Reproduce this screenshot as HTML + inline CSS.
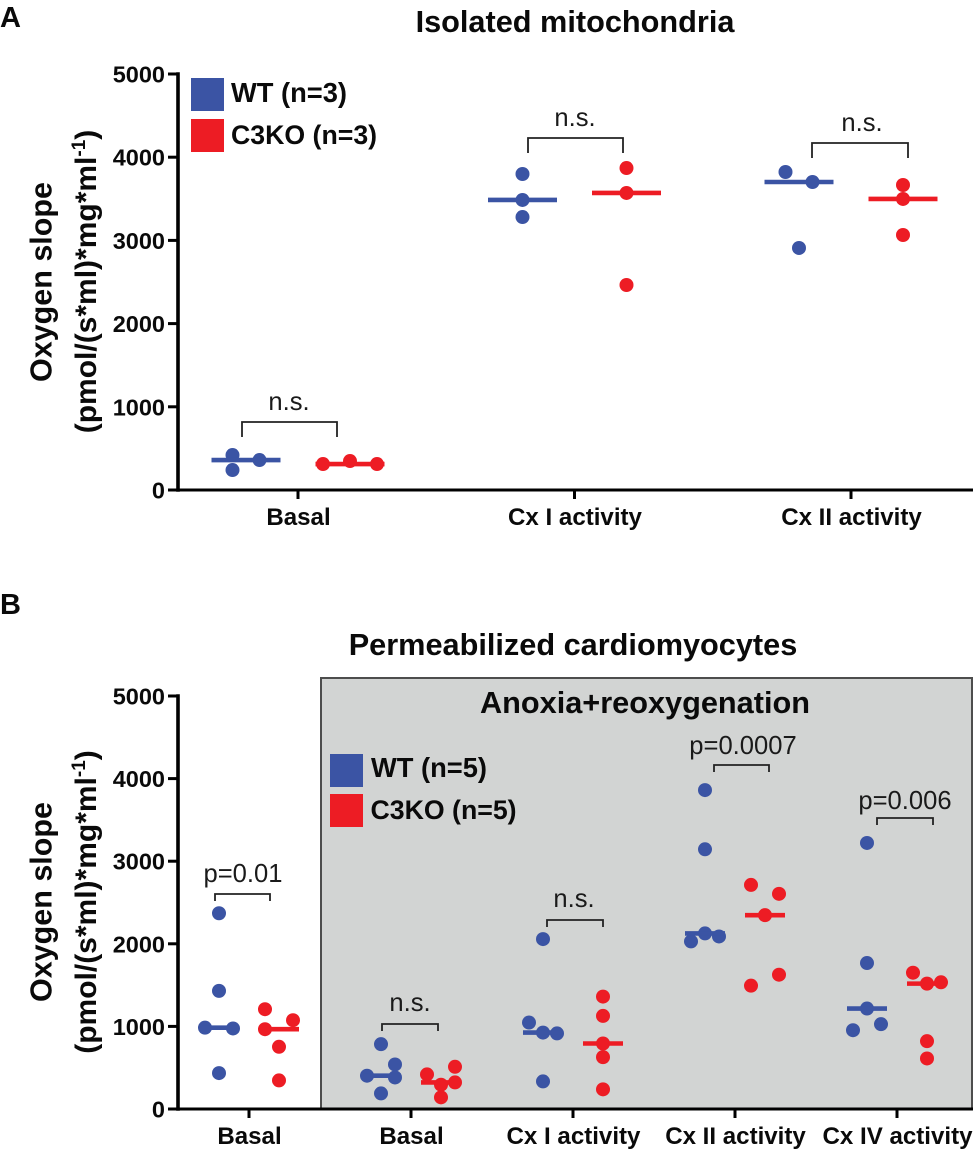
<!DOCTYPE html>
<html lang="en">
<head>
<meta charset="utf-8">
<title>Oxygen slope charts</title>
<style>
html,body{margin:0;padding:0;background:#fff;}
svg{display:block;font-family:"Liberation Sans",Arial,sans-serif;}
.b{font-weight:700;fill:#0a0a0a;}
.sig{font-size:25.6px;fill:#1a1a1a;text-anchor:middle;}
.br{fill:none;stroke:#222;stroke-width:1.8;}
.tick{font-size:23.5px;font-weight:700;fill:#0a0a0a;}
.cat{font-size:24.1px;font-weight:700;fill:#0a0a0a;}
.leg{font-size:26.7px;font-weight:700;fill:#0a0a0a;}
.legw{font-size:27.3px;font-weight:700;fill:#0a0a0a;}
.ttl{font-size:30.7px;font-weight:700;fill:#0a0a0a;text-anchor:middle;}
.ax1{font-size:30.5px;font-weight:700;fill:#0a0a0a;text-anchor:middle;}
.ax2{font-size:30px;font-weight:700;fill:#0a0a0a;text-anchor:middle;}
</style>
</head>
<body>
<svg id="chart" width="973" height="1149" viewBox="0 0 973 1149" xmlns="http://www.w3.org/2000/svg">
  <rect x="0" y="0" width="973" height="1149" fill="#fff"/>
  <rect x="321" y="678" width="651" height="431" fill="#d2d4d3" stroke="#4d4d4d" stroke-width="2"/>

  <text x="0" y="27" class="b" font-size="29">A</text>
  <text x="0" y="614" class="b" font-size="29">B</text>
  <text x="575" y="32" class="ttl">Isolated mitochondria</text>
  <text x="573" y="655" class="ttl">Permeabilized cardiomyocytes</text>
  <text x="645" y="713" class="ttl">Anoxia+reoxygenation</text>

  <text transform="translate(51.5 282) rotate(-90)" class="ax1">Oxygen slope</text>
  <text transform="translate(96 281.5) rotate(-90)" class="ax2">(pmol/(s*ml)*mg*ml<tspan font-size="19" dy="-11">-1</tspan><tspan dy="11">)</tspan></text>
  <text transform="translate(51.5 902) rotate(-90)" class="ax1">Oxygen slope</text>
  <text transform="translate(96 902) rotate(-90)" class="ax2">(pmol/(s*ml)*mg*ml<tspan font-size="19" dy="-11">-1</tspan><tspan dy="11">)</tspan></text>

  <g>
    <rect x="191" y="78" width="33" height="33" fill="#3b54a4"/>
    <text x="231" y="102" class="legw">WT (n=3)</text>
    <rect x="191" y="119" width="33" height="33" fill="#ed1c24"/>
    <text x="231" y="144" class="leg">C3KO (n=3)</text>
  </g>
  <g>
    <rect x="330" y="754" width="33" height="33" fill="#3b54a4"/>
    <text x="371" y="777" class="legw">WT (n=5)</text>
    <rect x="330" y="794" width="33" height="33" fill="#ed1c24"/>
    <text x="370.5" y="819" class="leg">C3KO (n=5)</text>
  </g>

  <g>
    <path class="br" d="M242 437V422H337V437"/>
    <text x="289" y="410" class="sig">n.s.</text>
    <path class="br" d="M528 153V138H623V153"/>
    <text x="575" y="126" class="sig">n.s.</text>
    <path class="br" d="M812 158V143H908V158"/>
    <text x="862" y="131" class="sig">n.s.</text>
  </g>
  <g>
    <path class="br" d="M215 901V894H270V901"/>
    <text x="243" y="882" class="sig">p=0.01</text>
    <path class="br" d="M382 1031V1024H438V1031"/>
    <text x="410" y="1011" class="sig">n.s.</text>
    <path class="br" d="M547 927V920H603V927"/>
    <text x="574" y="907" class="sig">n.s.</text>
    <path class="br" d="M714 772V765H769V772"/>
    <text x="743" y="754" class="sig">p=0.0007</text>
    <path class="br" d="M877 825V818H933V825"/>
    <text x="905" y="809" class="sig">p=0.006</text>
  </g>
  <g id="marks"></g>
</svg>
<script>
// Shared tick labels
const yTickValues = [0, 1000, 2000, 3000, 4000, 5000];

// Panel A: categories
const panelACategories = ['Basal', 'Cx I activity', 'Cx II activity'];
// Panel A: measured values per category
const panelAWT = [
  [420, 360, 240],
  [3798, 3486, 3281],
  [3822, 3702, 2909]
];
const panelAKO = [
  [312, 348, 312],
  [3870, 3570, 2464],
  [3666, 3498, 3065]
];
// Panel A: swarm column index of each point
const panelAWTColumns = [
  [-1, 1, -1],
  [0, 0, 0],
  [-1, 1, 0]
];
const panelAKOColumns = [
  [-2, 0, 2],
  [0, 0, 0],
  [0, 0, 0]
];

// Panel B: categories
const panelBCategories = ['Basal', 'Basal', 'Cx I activity', 'Cx II activity', 'Cx IV activity'];
// Panel B: measured values per category
const panelBWT = [
  [2370, 1430, 985, 975, 435],
  [785, 539, 403, 382, 189],
  [2057, 1047, 925, 915, 334],
  [3861, 3144, 2126, 2089, 2029],
  [3221, 1767, 1216, 1027, 954]
];
const panelBKO = [
  [1208, 1075, 966, 753, 346],
  [511, 419, 322, 294, 141],
  [1361, 1127, 793, 628, 238],
  [2713, 2605, 2347, 1626, 1493],
  [1650, 1534, 1518, 821, 612]
];
// Panel B: swarm column index of each point
const panelBWTColumns = [
  [0, 0, -1, 1, 0],
  [0, 1, -1, 1, 0],
  [0, -1, 0, 1, 0],
  [0, 0, 0, 1, -1],
  [0, 0, 0, 1, -1]
];
const panelBKOColumns = [
  [-1, 1, -1, 0, 0],
  [1, -1, 1, 0, 0],
  [0, 0, 0, 0, 0],
  [-1, 1, 0, 1, -1],
  [-1, 1, 0, 0, 0]
];

const NS = 'http://www.w3.org/2000/svg';
const marks = document.getElementById('marks');
const BLUE = '#3b54a4';
const RED = '#ed1c24';

function make(tag, attrs, parent) {
  const el = document.createElementNS(NS, tag);
  for (const k in attrs) el.setAttribute(k, attrs[k]);
  parent.appendChild(el);
  return el;
}

function median(values) {
  const s = values.slice().sort(function (a, b) { return a - b; });
  return s[Math.floor(s.length / 2)];
}

function drawSeries(parent, values, columns, cx, yScale, colUnit, lineHalf, color, seriesName) {
  const g = make('g', {}, parent);
  
  
  values.forEach(function (v, i) {
    const dot = make('circle', { cx: cx + columns[i] * colUnit, cy: yScale(v), r: 7, fill: color }, g);
    
    
  });
  const m = median(values);
  const line = make('line', { x1: cx - lineHalf, x2: cx + lineHalf, y1: yScale(m), y2: yScale(m), stroke: color, 'stroke-width': 4.6 }, g);
  
  
}

function drawPanel(opts) {
  const g = make('g', {}, marks);
  
  

  const yAxis = make('line', { x1: opts.axisX, x2: opts.axisX, y1: opts.yScale(5000) - 1.7, y2: opts.yScale(0) + 1.7, stroke: '#000', 'stroke-width': 3.6 }, g);
  
  
  const xAxis = make('line', { x1: opts.axisX, x2: 973, y1: opts.yScale(0), y2: opts.yScale(0), stroke: '#000', 'stroke-width': 3 }, g);
  
  

  yTickValues.forEach(function (v) {
    const t = make('line', { x1: opts.axisX - 10, x2: opts.axisX, y1: opts.yScale(v), y2: opts.yScale(v), stroke: '#000', 'stroke-width': 3 }, g);
    
    
    const label = make('text', { x: opts.axisX - 13, y: opts.yScale(v) + 8.5, 'text-anchor': 'end', class: 'tick' }, g);
    
    
    label.textContent = String(v);
  });

  opts.categories.forEach(function (c, i) {
    const x = opts.xScale(i);
    const t = make('line', { x1: x, x2: x, y1: opts.yScale(0), y2: opts.yScale(0) + 9, stroke: '#000', 'stroke-width': 3 }, g);
    
    
    const label = make('text', { x: x + 0.5, y: opts.yScale(0) + opts.labelDrop, 'text-anchor': 'middle', class: 'cat' }, g);
    
    
    label.textContent = c;
    drawSeries(g, opts.wt[i], opts.wtCols[i], x - opts.groupOffset, opts.yScale, opts.colUnit, opts.lineHalf, BLUE, 'wt-series');
    drawSeries(g, opts.ko[i], opts.koCols[i], x + opts.groupOffset, opts.yScale, opts.colUnit, opts.lineHalf, RED, 'c3ko-series');
  });
}

function yA(v) { return 490 - v / 5000 * 416; }
function yB(v) { return 1109 - v / 5000 * 413; }
function xA(i) { return 298 + i * 276.5; }
function xB(i) { return 249 + i * 162; }

drawPanel({
  name: 'panel-a-chart', axisX: 178, yScale: yA, xScale: xA, categories: panelACategories,
  wt: panelAWT, ko: panelAKO, wtCols: panelAWTColumns, koCols: panelAKOColumns,
  groupOffset: 52, colUnit: 13.5, lineHalf: 34.5, labelDrop: 35
});
drawPanel({
  name: 'panel-b-chart', axisX: 178, yScale: yB, xScale: xB, categories: panelBCategories,
  wt: panelBWT, ko: panelBKO, wtCols: panelBWTColumns, koCols: panelBKOColumns,
  groupOffset: 30, colUnit: 14, lineHalf: 20, labelDrop: 35
});
</script>
</body>
</html>
